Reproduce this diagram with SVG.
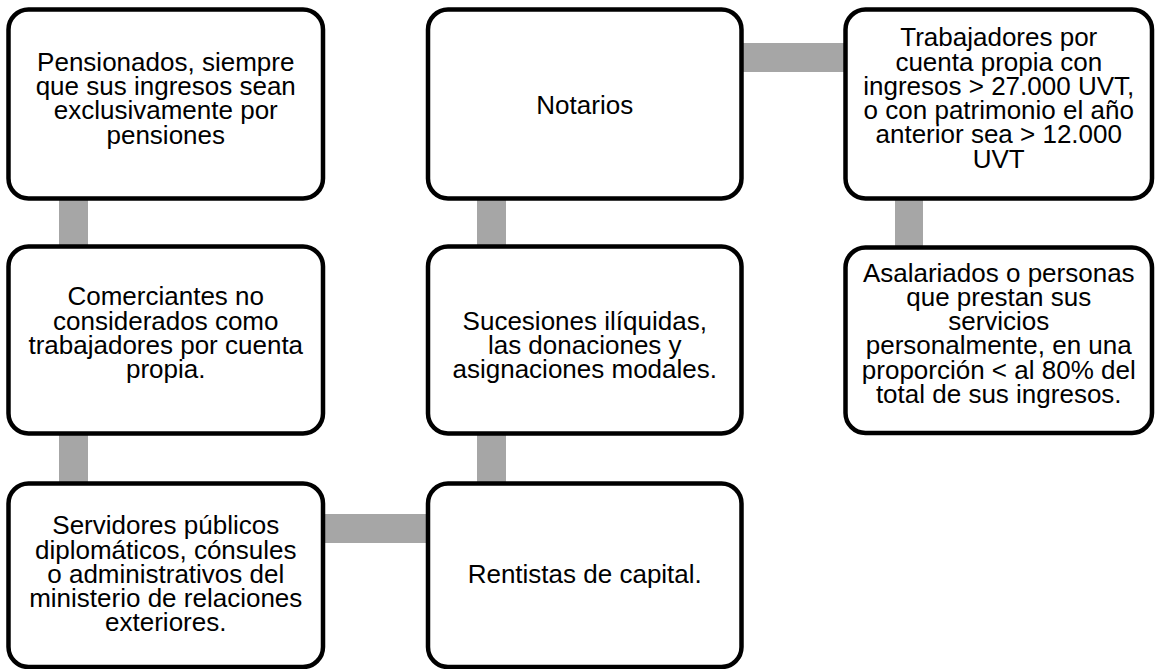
<svg xmlns="http://www.w3.org/2000/svg" width="1156" height="669" viewBox="0 0 1156 669">
<style>
.box{fill:#fff;stroke:#000;stroke-width:4.5}
.bar{fill:#a6a6a6}
text{font-family:"Liberation Sans",Arial,sans-serif;font-size:26px;fill:#000;text-anchor:middle}
</style>
<rect width="1156" height="669" fill="#fff"/>
<g id="connectors">
<rect class="bar" x="59" y="190" width="29" height="60"/>
<rect class="bar" x="59" y="425" width="29" height="65"/>
<rect class="bar" x="315" y="514" width="120" height="29"/>
<rect class="bar" x="477" y="425" width="29" height="65"/>
<rect class="bar" x="477" y="190" width="29" height="60"/>
<rect class="bar" x="735" y="43" width="115" height="29"/>
<rect class="bar" x="895" y="190" width="28" height="60"/>
</g>
<g id="n1">
<rect class="box" x="8.5" y="9.5" width="314.5" height="189" rx="20"/>
<text x="165.75" y="70.5">Pensionados, siempre</text>
<text x="165.75" y="95">que sus ingresos sean</text>
<text x="165.75" y="119">exclusivamente por</text>
<text x="165.75" y="143.5">pensiones</text>
</g>
<g id="n2">
<rect class="box" x="8.5" y="246.5" width="314.5" height="187" rx="20"/>
<text x="165.75" y="305">Comerciantes no</text>
<text x="165.75" y="329.5">considerados como</text>
<text x="165.75" y="354">trabajadores por cuenta</text>
<text x="165.75" y="378">propia.</text>
</g>
<g id="n3">
<rect class="box" x="8.5" y="483.5" width="314.5" height="183.5" rx="20"/>
<text x="165.75" y="534">Servidores públicos</text>
<text x="165.75" y="558.5">diplomáticos, cónsules</text>
<text x="165.75" y="582.5">o administrativos del</text>
<text x="165.75" y="607">ministerio de relaciones</text>
<text x="165.75" y="631">exteriores.</text>
</g>
<g id="n4">
<rect class="box" x="428" y="9.5" width="313.5" height="189" rx="20"/>
<text x="584.75" y="113.5">Notarios</text>
</g>
<g id="n5">
<rect class="box" x="428" y="246.5" width="313.5" height="187" rx="20"/>
<text x="584.75" y="329.5">Sucesiones ilíquidas,</text>
<text x="584.75" y="354">las donaciones y</text>
<text x="584.75" y="378">asignaciones modales.</text>
</g>
<g id="n6">
<rect class="box" x="428" y="483.5" width="313.5" height="183.5" rx="20"/>
<text x="584.75" y="582.5">Rentistas de capital.</text>
</g>
<g id="n7">
<rect class="box" x="845.5" y="9.5" width="306.5" height="189" rx="20"/>
<text x="998.75" y="46">Trabajadores por</text>
<text x="998.75" y="70.5">cuenta propia con</text>
<text x="998.75" y="94.5">ingresos &gt; 27.000 UVT,</text>
<text x="998.75" y="119">o con patrimonio el año</text>
<text x="998.75" y="143">anterior sea &gt; 12.000</text>
<text x="998.75" y="167.5">UVT</text>
</g>
<g id="n8">
<rect class="box" x="845.5" y="247.5" width="306.5" height="185.5" rx="20"/>
<text x="998.75" y="281.5">Asalariados o personas</text>
<text x="998.75" y="305.5">que prestan sus</text>
<text x="998.75" y="330">servicios</text>
<text x="998.75" y="354">personalmente, en una</text>
<text x="998.75" y="378.5">proporción &lt; al 80% del</text>
<text x="998.75" y="402.5">total de sus ingresos.</text>
</g>
</svg>
